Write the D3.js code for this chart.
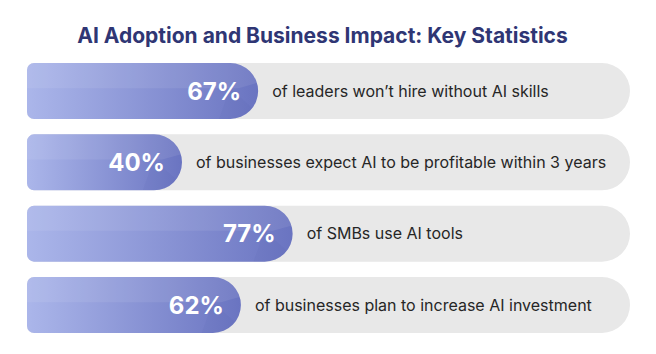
<!DOCTYPE html>
<html><head><meta charset="utf-8">
<script src="https://cdn.jsdelivr.net/npm/d3@7"></script>
<style>html,body{margin:0;padding:0;background:#fff;}svg{display:block;}</style>
</head><body>
<script>
const title = "AI Adoption and Business Impact: Key Statistics";
const labels = ["of leaders won’t hire without AI skills","of businesses expect AI to be profitable within 3 years","of SMBs use AI tools","of businesses plan to increase AI investment"];
const values = [67, 40, 77, 62];

const W = 656, H = 354;
const svg = d3.select("body").append("svg").attr("width", W).attr("height", H);
const defs = svg.append("defs");
const grad = defs.append("linearGradient").attr("id","g").attr("x1","0").attr("x2","1").attr("y1","0").attr("y2","0");
grad.append("stop").attr("offset","0%").attr("stop-color","#abb6ea");
grad.append("stop").attr("offset","100%").attr("stop-color","#6a74c1");

svg.append("text").attr("x", 322.5).attr("y", 43).attr("text-anchor","middle")
  .attr("font-family","Inter, Lato, sans-serif").attr("font-weight",700).attr("font-size",21)
  .attr("fill","#2f3674").text(title);

const left = 27, right = 630;
const y = d3.scaleBand().domain(d3.range(values.length)).range([63, 333]).paddingInner(0.215).paddingOuter(0);
const x = d3.scaleLinear().domain([0,100]).range([0, 345]);
const minW = 155;

function pill(w, h, rl, rr){
  return `M${rl},0 H${w-rr} A${rr},${rr} 0 0 1 ${w},${rr} V${h-rr} A${rr},${rr} 0 0 1 ${w-rr},${h} H${rl} A${rl},${rl} 0 0 1 0,${h-rl} V${rl} A${rl},${rl} 0 0 1 ${rl},0 Z`;
}

const rows = svg.selectAll("g.row").data(values).join("g").attr("class","row")
  .attr("transform",(d,i)=>`translate(${left},${y(i)})`);
const bh = y.bandwidth();
rows.append("path").attr("d", pill(right-left, bh, 7, bh/2)).attr("fill","#e8e8e8");
rows.each(function(d,i){
  const g = d3.select(this);
  const w = Math.max(x(d), minW);
  const cid = "c"+i;
  defs.append("clipPath").attr("id",cid).append("path").attr("d", pill(w, bh, 7, bh/2));
  g.append("path").attr("d", pill(w, bh, 7, bh/2)).attr("fill","url(#g)");
  const cg = g.append("g").attr("clip-path",`url(#${cid})`);
  cg.append("path").attr("d", `M0,0 H${w} V${bh*0.35} L${w-bh*0.35},${bh*0.45} H0 Z`).attr("fill","#ffffff").attr("opacity",0.08);
  cg.append("path").attr("d", `M${w-bh*0.5},${bh*0.45} L${w},${bh*0.9} V${bh} H${w-bh*0.7} Z`).attr("fill","#4a54a8").attr("opacity",0.08);
  g.append("text").attr("x", w-17).attr("y", bh/2).attr("dy","0.36em").attr("text-anchor","end")
    .attr("font-family","Inter, Lato, sans-serif").attr("font-weight",700).attr("font-size",24)
    .attr("fill","#ffffff").text(d+"%");
  g.append("text").attr("x", w+14).attr("y", bh/2).attr("dy","0.36em")
    .attr("font-family","Inter, sans-serif").attr("font-weight",400).attr("font-size",16)
    .attr("fill","#262626").text(labels[i]);
});
</script>
</body></html>
